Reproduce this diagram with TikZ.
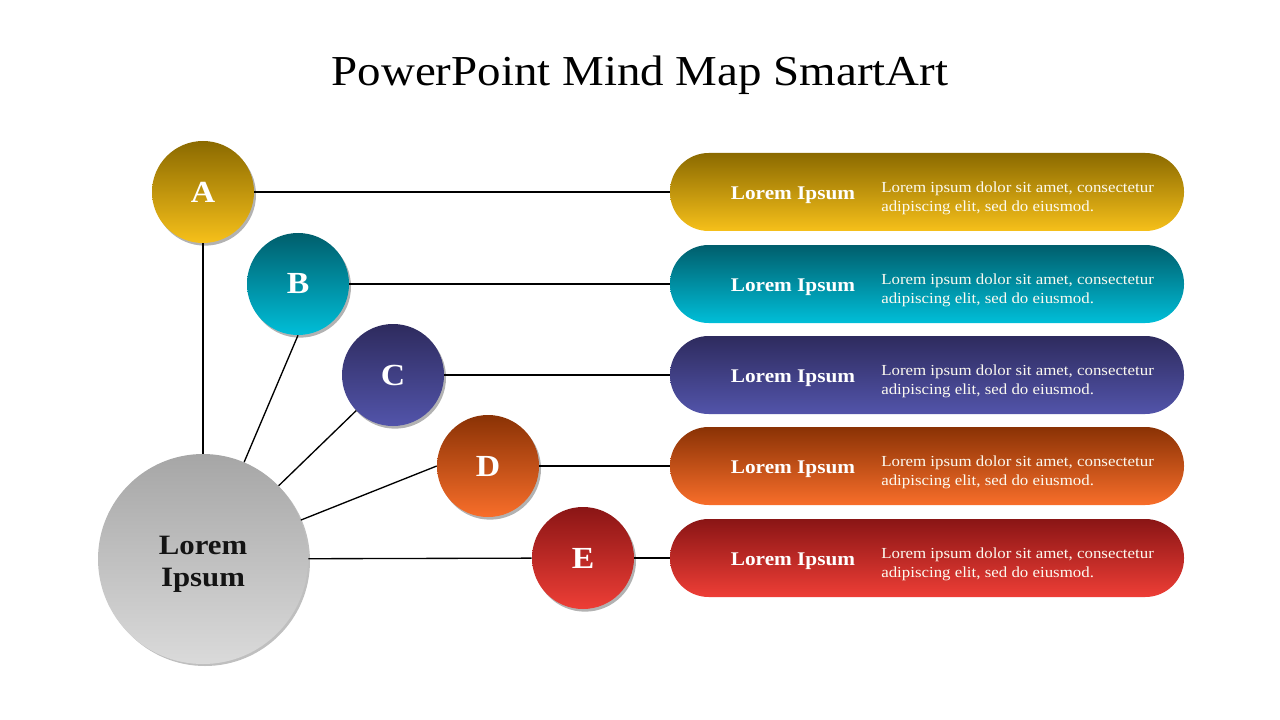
\documentclass[tikz,border=0pt]{standalone}
\usepackage{fontspec}
\setmainfont[FakeStretch=1.1]{Liberation Serif}
\usetikzlibrary{shadows}

\definecolor{aTop}{RGB}{139,106,0}
\definecolor{aBot}{RGB}{246,192,26}
\definecolor{bTop}{RGB}{0,94,108}
\definecolor{bBot}{RGB}{0,190,216}
\definecolor{cTop}{RGB}{46,43,94}
\definecolor{cBot}{RGB}{82,84,170}
\definecolor{dTop}{RGB}{138,50,5}
\definecolor{dBot}{RGB}{248,110,42}
\definecolor{eTop}{RGB}{138,21,21}
\definecolor{eBot}{RGB}{238,62,54}
\definecolor{hubTop}{RGB}{166,166,166}
\definecolor{hubBot}{RGB}{218,218,218}

\tikzset{
  bubble/.style={circle, minimum size=76.5pt, inner sep=0pt, text=white,
    font=\bfseries\fontsize{23}{28}\selectfont,
    drop shadow={shadow xshift=1.5pt, shadow yshift=-2pt, opacity=0.3, fill=black}},
  hub/.style={circle, minimum size=157.5pt, inner sep=0pt, align=center,
    top color=hubTop, bottom color=hubBot, text={rgb,255:red,20;green,20;blue,20},
    font=\bfseries\fontsize{21}{24}\selectfont,
    drop shadow={shadow xshift=1.5pt, shadow yshift=-1.5pt, opacity=0.25, fill=black}},
  pill/.style={rectangle, rounded corners=29pt, minimum width=385.5pt, minimum height=58.5pt, inner sep=0pt},
  pilltitle/.style={text=white, inner sep=0pt, font=\bfseries\fontsize{14.5}{16}\selectfont},
  pilltext/.style={text={rgb,255:red,252;green,250;blue,240}, anchor=west, align=left, inner sep=0pt,
    font=\fontsize{11.5}{14.25}\selectfont},
  link/.style={line width=1pt, draw=black}
}

\begin{document}
\begin{tikzpicture}[x=0.75pt,y=0.75pt,yscale=-1,xscale=1]
\useasboundingbox (0,0) rectangle (1280,720);

% Title
\node (title) at (640,75) {\fontsize{32}{38}\selectfont PowerPoint Mind Map SmartArt};

% Pills
\node [pill, top color=aTop, bottom color=aBot] (pillA) at (927,192) {};
\node [pill, top color=bTop, bottom color=bBot] (pillB) at (927,284) {};
\node [pill, top color=cTop, bottom color=cBot] (pillC) at (927,375) {};
\node [pill, top color=dTop, bottom color=dBot] (pillD) at (927,466) {};
\node [pill, top color=eTop, bottom color=eBot] (pillE) at (927,558) {};

% Pill labels
\node [pilltitle] (titleA) at (793,195) {Lorem Ipsum};
\node [pilltitle] (titleB) at (793,287) {Lorem Ipsum};
\node [pilltitle] (titleC) at (793,378) {Lorem Ipsum};
\node [pilltitle] (titleD) at (793,469) {Lorem Ipsum};
\node [pilltitle] (titleE) at (793,561) {Lorem Ipsum};

% Pill texts
\node [pilltext] (textA) at (881,198) {Lorem ipsum dolor sit amet, consectetur\\adipiscing elit, sed do eiusmod.};
\node [pilltext] (textB) at (881,290) {Lorem ipsum dolor sit amet, consectetur\\adipiscing elit, sed do eiusmod.};
\node [pilltext] (textC) at (881,381) {Lorem ipsum dolor sit amet, consectetur\\adipiscing elit, sed do eiusmod.};
\node [pilltext] (textD) at (881,472) {Lorem ipsum dolor sit amet, consectetur\\adipiscing elit, sed do eiusmod.};
\node [pilltext] (textE) at (881,564) {Lorem ipsum dolor sit amet, consectetur\\adipiscing elit, sed do eiusmod.};

% Hub
\node [hub] (hub) at (203,559) {};
\node [inner sep=0pt, align=center, text={rgb,255:red,20;green,20;blue,20},
  font=\bfseries\fontsize{21}{24}\selectfont] (hubText) at (203,564) {Lorem\\Ipsum};

% Bubbles
\node [bubble, top color=aTop, bottom color=aBot] (bubA) at (203,192) {A};
\node [bubble, top color=bTop, bottom color=bBot] (bubB) at (298,284) {B};
\node [bubble, top color=cTop, bottom color=cBot] (bubC) at (393,375) {C};
\node [bubble, top color=dTop, bottom color=dBot] (bubD) at (488,466) {D};
\node [bubble, top color=eTop, bottom color=eBot] (bubE) at (583,558) {E};

%Straight Lines
\draw [link] (bubA) -- (pillA);
\draw [link] (bubB) -- (pillB);
\draw [link] (bubC) -- (pillC);
\draw [link] (bubD) -- (pillD);
\draw [link] (bubE) -- (pillE);

%Straight Lines to hub
\draw [link] (bubA) -- (hub);
\draw [link] (bubB.south) -- (hub);
\draw [link] (bubC) -- (hub);
\draw [link] (bubD.west) -- (hub);
\draw [link] (hub) -- (bubE);

\end{tikzpicture}
\end{document}
